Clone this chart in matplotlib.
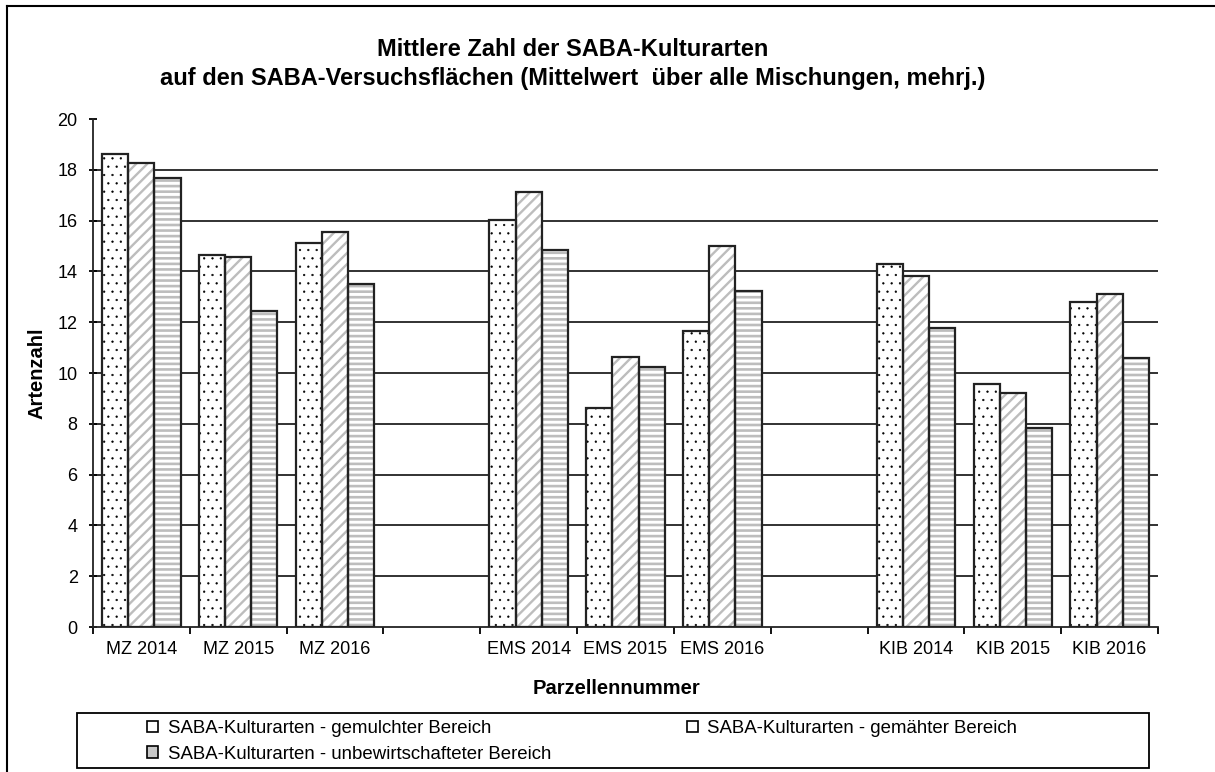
import matplotlib
matplotlib.use("Agg")
import matplotlib.pyplot as plt
from matplotlib.patches import Rectangle, Patch
from matplotlib.lines import Line2D

plt.rcParams["font.family"] = ["Liberation Sans", "DejaVu Sans"]

# category labels (three plots, each 2014-2016)
labels = ["MZ 2014", "MZ 2015", "MZ 2016",
          "EMS 2014", "EMS 2015", "EMS 2016",
          "KIB 2014", "KIB 2015", "KIB 2016"]
gemulcht = [18.63, 14.65, 15.12, 16.02, 8.62, 11.67, 14.28, 9.58, 12.81]
gemaeht = [18.28, 14.58, 15.54, 17.14, 10.64, 15.00, 13.82, 9.22, 13.11]
unbewirt = [17.69, 12.44, 13.50, 14.83, 10.22, 13.22, 11.78, 7.85, 10.59]

series_names = ["SABA-Kulturarten - gemulchter Bereich",
                "SABA-Kulturarten - gemähter Bereich",
                "SABA-Kulturarten - unbewirtschafteter Bereich"]

W, H = 1215, 772
fig = plt.figure(figsize=(W / 100, H / 100), dpi=100)
ax = fig.add_axes([93 / W, 1 - 627 / H, (1158 - 93) / W, (627 - 119) / H])

# one empty slot between the plot groups
xpos = [i + i // 3 for i in range(len(labels))]
bw = 0.27
styles = [
    dict(hatch="..", ec="black", hlw=0.4),
    dict(hatch="///", ec="#bdbdbd", hlw=1.7),
    dict(hatch="---", ec="#bdbdbd", hlw=1.9),
]
for k, (vals, st) in enumerate(zip([gemulcht, gemaeht, unbewirt], styles)):
    xs = [x + (k - 1) * bw for x in xpos]
    with plt.rc_context({"hatch.linewidth": st["hlw"]}):
        ax.bar(xs, vals, width=bw, color="white", edgecolor=st["ec"],
               hatch=st["hatch"], linewidth=0, zorder=2)
    ax.bar(xs, vals, width=bw, fill=False, edgecolor="#222222",
           linewidth=1.6, zorder=3)

ax.set_xlim(-0.5, 10.5)
ax.set_ylim(0, 20)
ax.set_yticks(range(0, 21, 2))
for y in range(2, 20, 2):
    ax.axhline(y, color="#222222", lw=1.3, zorder=1)

ax.set_xticks(xpos)
ax.set_xticklabels(labels, fontsize=13)
ax.set_xticks([b - 0.5 for b in range(12)], minor=True)
ax.tick_params(axis="x", which="major", length=0, pad=10)
ax.tick_params(axis="x", which="minor", length=5, width=1.3, direction="out")
ax.tick_params(axis="y", length=6, width=1.3, direction="inout", labelsize=13, pad=8)

for s in ["top", "right"]:
    ax.spines[s].set_visible(False)
for s in ["left", "bottom"]:
    ax.spines[s].set_linewidth(1.3)
    ax.spines[s].set_color("#222222")

fig.text(573 / W, 1 - 50 / H, "Mittlere Zahl der SABA-Kulturarten",
         ha="center", va="center", fontsize=17, fontweight="bold")
fig.text(573 / W, 1 - 78 / H,
         "auf den SABA-Versuchsflächen (Mittelwert  über alle Mischungen, mehrj.)",
         ha="center", va="center", fontsize=17, fontweight="bold")
fig.text(37 / W, 1 - 373 / H, "Artenzahl", rotation=90, ha="center",
         va="center", fontsize=14.5, fontweight="bold")
fig.text(616 / W, 1 - 688 / H, "Parzellennummer", ha="center", va="center",
         fontsize=14.5, fontweight="bold")

# outer frame and legend box
fig.add_artist(Line2D([7 / W, 7 / W], [0, 1 - 6 / H], color="black", lw=1.5,
                      transform=fig.transFigure))
fig.add_artist(Line2D([7 / W, 1], [1 - 6 / H, 1 - 6 / H], color="black", lw=1.5,
                      transform=fig.transFigure))
fig.add_artist(Rectangle((77 / W, 1 - 768 / H), (1149 - 77) / W, (768 - 713) / H,
                         transform=fig.transFigure, fill=False, ec="black", lw=1.3))

handles = [
    Patch(facecolor="white", edgecolor="black", lw=1.2),
    Patch(facecolor="white", edgecolor="black", lw=1.2),
    Patch(facecolor="#c8c8c8", edgecolor="black", lw=1.2),
]
leg = fig.legend([handles[0], handles[2], handles[1]],
                 [series_names[0], series_names[2], series_names[1]],
                 ncol=2, loc="upper left", bbox_to_anchor=(134 / W, 1 - 707 / H),
                 frameon=False, fontsize=13.4, handlelength=0.6, handleheight=0.6,
                 handletextpad=0.5, columnspacing=7.3, labelspacing=0.47,
                 borderpad=0.2)

fig.savefig("out.png", dpi=100)
